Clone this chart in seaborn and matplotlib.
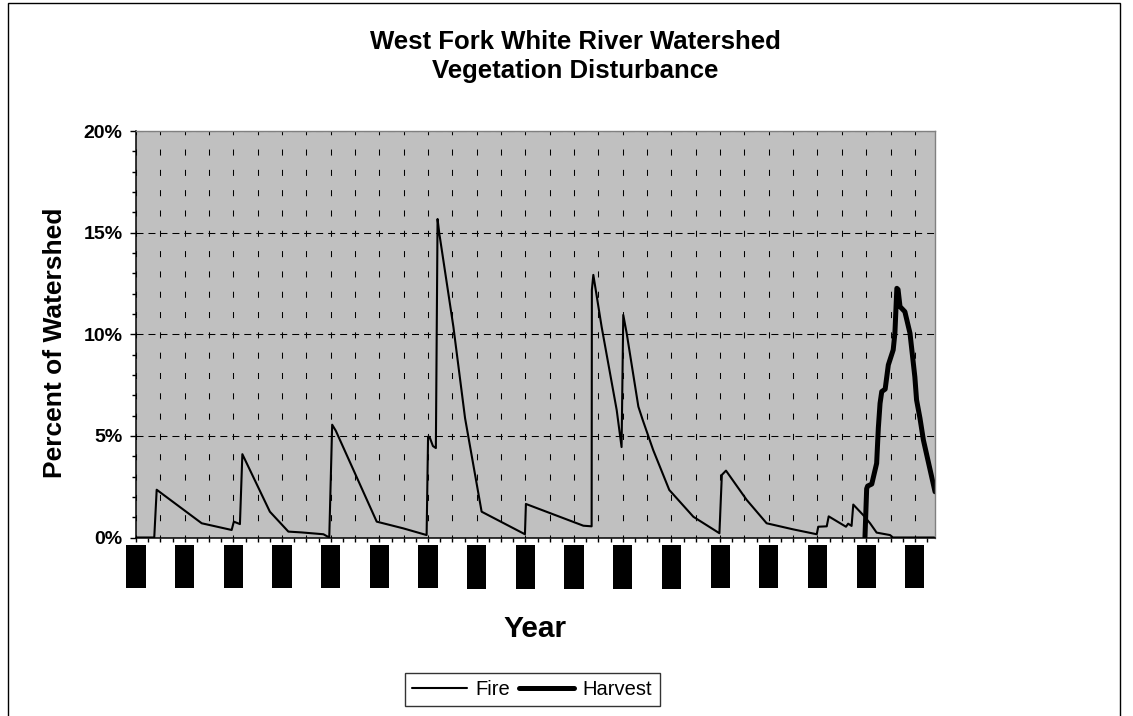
import matplotlib
matplotlib.use("Agg")
import matplotlib.pyplot as plt
from matplotlib.patches import Rectangle
from matplotlib.ticker import FixedLocator, FuncFormatter, MultipleLocator
import numpy as np
import pandas as pd
import seaborn as sns

# ---- data -------------------------------------------------------------
fire_year = [1670.0, 1677.5, 1678.5, 1697.0, 1709.3, 1710.2, 1712.7, 1713.7,
             1725.0, 1732.6, 1738.0, 1747.0, 1749.4, 1750.6, 1752.1, 1768.9,
             1779.8, 1789.4, 1790.0, 1790.6, 1792.0, 1793.2, 1793.9, 1794.6,
             1800.4, 1805.2, 1812.0, 1829.8, 1830.2, 1853.8, 1857.2, 1857.3,
             1857.9, 1861.3, 1867.5, 1869.5, 1870.2, 1871.6, 1876.4, 1878.2,
             1882.5, 1889.1, 1899.0, 1909.7, 1910.7, 1912.4, 1920.9, 1929.1,
             1940.0, 1949.7, 1950.3, 1953.8, 1954.6, 1961.7, 1962.6, 1964.0,
             1964.7, 1968.8, 1971.6, 1974.3, 1979.8, 1981.0, 1998.0]
fire_pct = [0.0, 0.0, 2.35, 0.70, 0.37, 0.78, 0.66, 4.10,
            1.27, 0.29, 0.25, 0.16, 0.0, 5.55, 5.25, 0.78,
            0.45, 0.12, 4.96, 4.95, 4.50, 4.40, 15.67, 14.97,
            10.37, 5.87, 1.27, 0.16, 1.65, 0.58, 0.55, 12.18,
            12.92, 10.37, 6.27, 4.45, 10.95, 10.05, 6.44, 5.78,
            4.30, 2.34, 1.02, 0.21, 3.08, 3.29, 1.85, 0.70,
            0.40, 0.16, 0.53, 0.55, 1.04, 0.53, 0.68, 0.57,
            1.62, 1.10, 0.70, 0.24, 0.12, 0.0, 0.0]

harvest_year = [1969.5, 1970.2, 1970.6, 1972.3, 1974.3, 1975.0, 1975.7,
                1976.4, 1977.8, 1979.1, 1981.1, 1981.8, 1982.6, 1983.1,
                1983.9, 1985.9, 1988.0, 1990.0, 1990.7, 1992.1, 1993.5,
                1998.3]
harvest_pct = [0.0, 2.40, 2.53, 2.63, 3.65, 5.40, 6.60,
               7.18, 7.30, 8.49, 9.23, 10.05, 12.26, 12.20,
               11.36, 11.11, 10.05, 7.90, 6.77, 5.87, 4.80,
               2.25]

year_labels = [str(y) for y in range(1670, 1991, 20)]
grid_years = list(range(1670, 1991, 10))
y_ticks = [0, 5, 10, 15, 20]

# ---- style ------------------------------------------------------------
sns.set_theme(style="white")
plt.rcParams["font.family"] = ["Liberation Sans", "DejaVu Sans"]
plt.rcParams.update({"text.color": "black", "axes.labelcolor": "black",
                     "xtick.color": "black", "ytick.color": "black"})

W, H = 1133, 716
fig = plt.figure(figsize=(W / 100, H / 100), dpi=100)
fig.patch.set_facecolor("white")

# outer chart frame
fig.add_artist(Rectangle((8 / W, -0.02), (1120 - 8) / W, 1.02 - 3 / H,
                         transform=fig.transFigure, fill=False,
                         edgecolor="black", linewidth=1.0))

ax = fig.add_axes([136 / W, 1 - 537.5 / H, (935.3 - 136) / W, (537.5 - 131) / H])
ax.set_facecolor("#C0C0C0")
ax.set_axisbelow(True)

fire_df = pd.DataFrame({"Year": fire_year, "Percent": fire_pct})
harvest_df = pd.DataFrame({"Year": harvest_year, "Percent": harvest_pct})

sns.lineplot(data=fire_df, x="Year", y="Percent", ax=ax, color="black",
             linewidth=1.5, estimator=None, sort=False, label="Fire")
sns.lineplot(data=harvest_df, x="Year", y="Percent", ax=ax, color="black",
             linewidth=3.6, estimator=None, sort=False, label="Harvest",
             solid_capstyle="round", solid_joinstyle="round")

ax.set_xlim(1670, 1998.4)
ax.set_ylim(0, 20)

# y axis
ax.yaxis.set_major_locator(FixedLocator(y_ticks))
ax.yaxis.set_minor_locator(MultipleLocator(1))
ax.yaxis.set_major_formatter(FuncFormatter(lambda v, p: f"{v:.0f}%"))
ax.tick_params(axis="y", which="major", direction="out", length=4.2,
               width=1.0, color="black", pad=5.5, labelsize=14,
               labelcolor="black", left=True)
ax.tick_params(axis="y", which="minor", direction="out", length=3.0,
               width=1.0, color="black", left=True)
for lab in ax.get_yticklabels():
    lab.set_fontweight("bold")

# x axis: grid every 10 years, labels every 20 years
ax.xaxis.set_major_locator(FixedLocator(grid_years))
ax.xaxis.set_minor_locator(FixedLocator([y + 5 for y in grid_years]))
ax.set_xticklabels([str(y) if str(y) in year_labels else "" for y in grid_years],
                   rotation=90, fontsize=13.5, fontweight="bold", color="black")
ax.tick_params(axis="x", which="both", direction="out", length=3.0,
               width=1.0, color="black", pad=3.0, bottom=True)

# dashed gridlines
on_v, off_v = 5.8, 13.7
ax.xaxis.grid(True, which="major", color="black", linewidth=0.75,
              linestyle=(on_v / 2, (on_v, off_v)))
ax.yaxis.grid(True, which="major", color="black", linewidth=0.75,
              linestyle=(0, (6.7, 4.8)))

for side in ("left", "bottom"):
    ax.spines[side].set_color("black")
    ax.spines[side].set_linewidth(1.1)
for side in ("top", "right"):
    ax.spines[side].set_color("#808080")
    ax.spines[side].set_linewidth(1.0)

ax.set_xlabel("")
ax.set_ylabel("")

# titles and axis names
fig.text(575 / W, 1 - 49.3 / H, "West Fork White River Watershed",
         ha="center", va="baseline", fontsize=18.5, fontweight="bold")
fig.text(575 / W, 1 - 78.3 / H, "Vegetation Disturbance",
         ha="center", va="baseline", fontsize=18.5, fontweight="bold")
fig.text(55 / W, 1 - 343 / H, "Percent of Watershed", rotation=90,
         ha="center", va="center", fontsize=19, fontweight="bold")
fig.text(535.5 / W, 1 - 636.7 / H, "Year", ha="center", va="baseline",
         fontsize=21.5, fontweight="bold")

# legend below the axis
ax.legend_.remove()
handles, labels = ax.get_legend_handles_labels()
leg = fig.legend(handles, labels, loc="center",
                 bbox_to_anchor=(532.3 / W, 1 - 689.3 / H), ncol=2,
                 frameon=True, fancybox=False, fontsize=14.5,
                 handlelength=2.7, handletextpad=0.45, columnspacing=0.45,
                 borderpad=0.35)
leg.get_frame().set_edgecolor("black")
leg.get_frame().set_linewidth(1.0)
for line in leg.get_lines():
    line.set_solid_capstyle("round")
for t in leg.get_texts():
    t.set_color("black")

# year labels drawn as solid blocks
fig.canvas.draw()
for lab in ax.get_xticklabels():
    if lab.get_text():
        lab.set_bbox(dict(boxstyle="square,pad=0.06", facecolor="black",
                          edgecolor="black", linewidth=0))

fig.savefig("out.png", dpi=100)
